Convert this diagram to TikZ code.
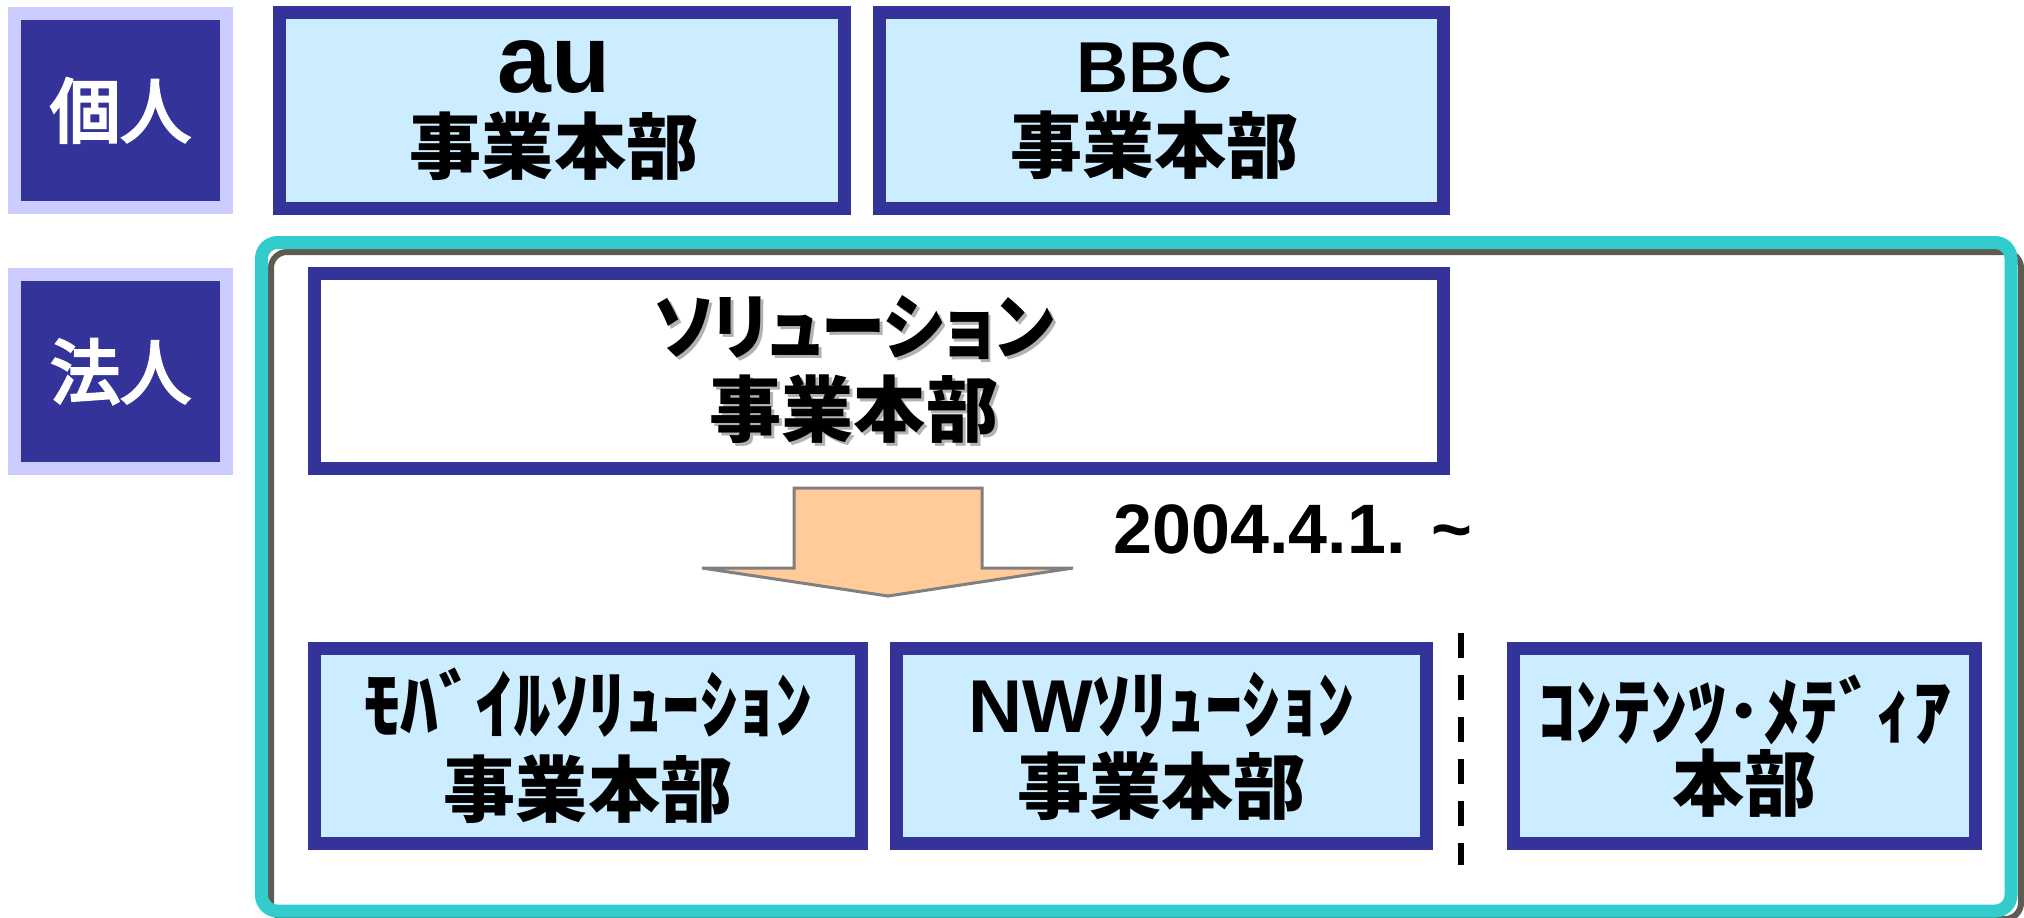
\documentclass[tikz,border=0pt]{standalone}
\usepackage{fontspec}
\setmainfont{Liberation Sans}
\newfontfamily\jp{Noto Sans CJK JP}
\newfontfamily\jpl{Noto Sans CJK JP}[FakeBold=4]
\newfontfamily\jpp{Noto Sans CJK JP}[RawFeature=+palt]
\usepackage{graphicx}
\usepackage{tikz}
\definecolor{lbldark}{HTML}{333399}
\definecolor{lbllight}{HTML}{CCCCFF}
\definecolor{boxline}{HTML}{333399}
\definecolor{boxfill}{HTML}{CCECFF}
\definecolor{frameteal}{HTML}{33CCCC}
\definecolor{framegray}{HTML}{5F5A52}
\definecolor{arrowfill}{HTML}{FFCC99}
\definecolor{arrowline}{HTML}{808080}
\definecolor{shadowgray}{HTML}{B2B2B2}
\newcommand*{\shd}[1]{\rlap{\kern0.03cm\raisebox{-0.03cm}{\textcolor{shadowgray}{#1}}}#1}
\newcommand*{\kana}[1]{{\fontsize{21.3pt}{24pt}\selectfont #1}}

\begin{document}
\begin{tikzpicture}[x=0.01cm,y=-0.01cm,
	lblbox/.style={fill=lbldark,draw=lbllight,line width=0.13cm,inner sep=0pt,minimum width=2.12cm,minimum height=1.94cm,text=white,font=\jpl\fontsize{20pt}{22pt}\selectfont},
	divbox/.style={fill=boxfill,draw=boxline,line width=0.13cm,inner sep=0pt,minimum height=1.95cm,align=center,font=\bfseries\jp\fontsize{20.5pt}{22.8pt}\selectfont},
	solbox/.style={divbox,fill=white},
	datetext/.style={anchor=base west,inner sep=0pt,font=\bfseries\fontsize{19.9pt}{22pt}\selectfont}]
	\useasboundingbox (0,0) rectangle (2024,917);
	% frame
	\draw[framegray,line width=0.06cm,rounded corners=0.16cm] (271,252) rectangle (2021,919);
	\draw[frameteal,line width=0.13cm,rounded corners=0.16cm] (261.5,242.5) rectangle (2011,911);
	\node[lblbox] (kojin) at (120.5,110.5) {個人};
	\node[lblbox] (hojin) at (120.5,371.5) {法人};
	\node[divbox,minimum width=5.65cm] (au) at (562,110.5) {{\fontsize{27.5pt}{22.8pt}\selectfont\rmfamily au}\hspace*{0.16cm}\\事業本部\hspace*{0.16cm}};
	\node[divbox,minimum width=5.64cm] (bbc) at (1161.5,110.5) {{\rmfamily BBC}\hspace*{0.14cm}\\事業本部\hspace*{0.14cm}};
	\node[solbox,minimum width=11.29cm,font=\bfseries\jpp\fontsize{20.5pt}{23.6pt}\selectfont] (sol) at (879,371) {\shd{\scalebox{0.89}[1]{ソリューション}}\hspace*{0.5cm}\\\shd{事業本部}\hspace*{0.5cm}};
	\draw[fill=arrowfill,draw=arrowline,line width=0.03cm] (794,488) -- (982,488) -- (982,568) -- (1073,568) -- (888,596) -- (702,568) -- (794,568) -- cycle;
	\node[datetext] (date) at (1113,553) {2004.4.1. \textasciitilde};
	\node[divbox,minimum width=5.47cm,font=\bfseries\jp\fontsize{20.5pt}{24pt}\selectfont] (mob) at (588,746) {\kana{ﾓﾊﾞｲﾙｿﾘｭｰｼｮﾝ}\\事業本部};
	\node[divbox,minimum width=5.30cm,font=\bfseries\jp\fontsize{20.5pt}{23pt}\selectfont] (nw) at (1161.5,746) {\kana{{\rmfamily NW}ｿﾘｭｰｼｮﾝ}\\事業本部};
	\node[divbox,minimum width=4.62cm,font=\bfseries\jp\fontsize{20.5pt}{20pt}\selectfont] (cnt) at (1744.5,746) {\kana{ｺﾝﾃﾝﾂ･ﾒﾃﾞｨｱ}\\本部};
	\draw[line width=0.06cm,dash pattern=on 0.25cm off 0.17cm] (1461,633) -- (1461,865);
\end{tikzpicture}
\end{document}
